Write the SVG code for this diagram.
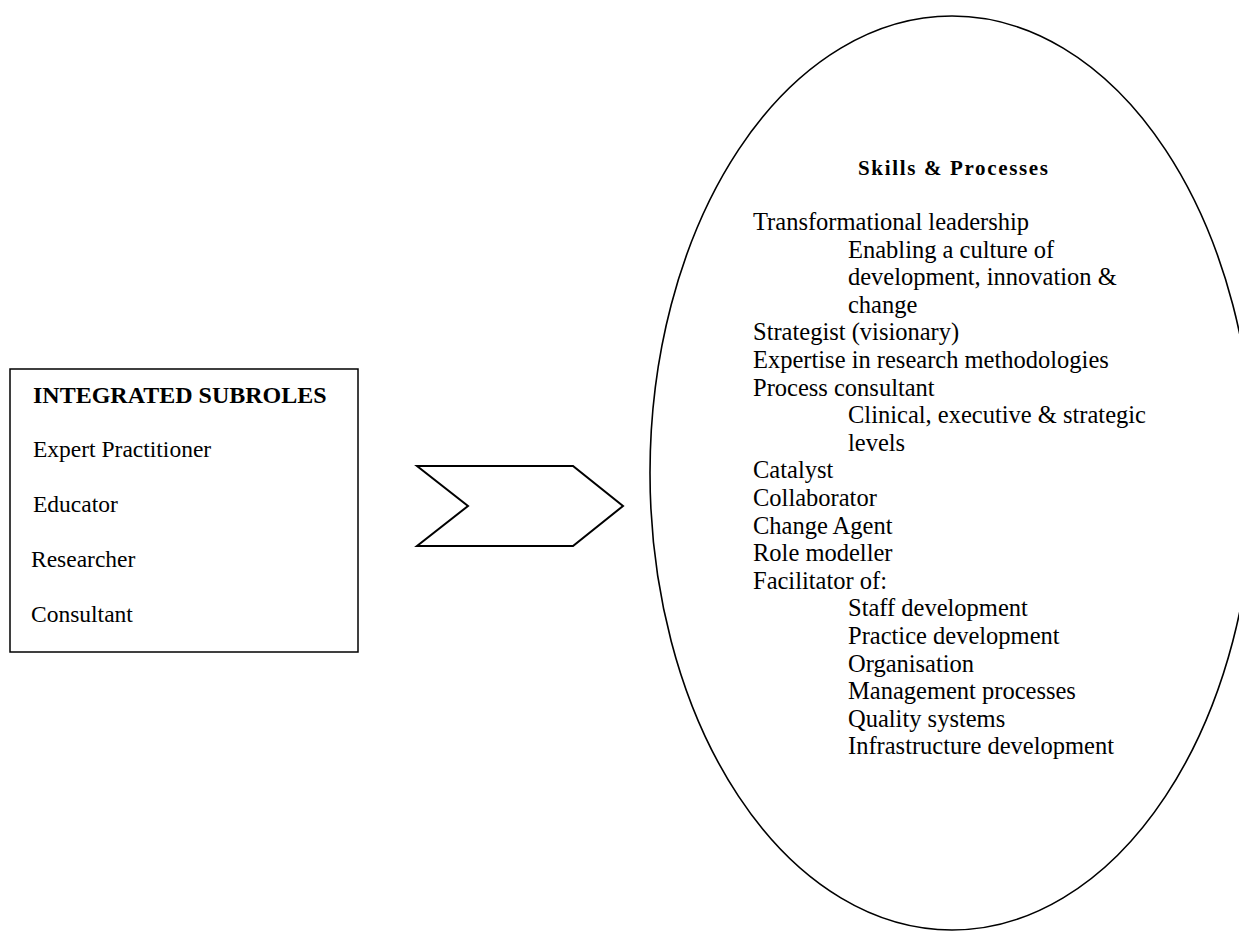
<svg xmlns="http://www.w3.org/2000/svg" width="1239" height="934" viewBox="0 0 1239 934">
  <style>
    .shape { fill: #ffffff; stroke: #000000; }
    .t { font-family: "Liberation Serif", "Times New Roman", serif; fill: #000000; }
    .box { font-size: 23.5px; }
    .boxh { font-size: 24px; font-weight: bold; }
    .list { font-size: 24.5px; }
    .title { font-size: 21px; font-weight: bold; }
  </style>
  <rect width="1239" height="934" fill="#ffffff"/>

  <g id="subroles">
    <rect class="shape" x="10" y="369" width="348" height="283" stroke-width="1.5"/>
    <text class="t boxh" x="33" y="403">INTEGRATED SUBROLES</text>
    <text class="t box" x="33" y="457">Expert Practitioner</text>
    <text class="t box" x="33" y="512">Educator</text>
    <text class="t box" x="31" y="567">Researcher</text>
    <text class="t box" x="31" y="622">Consultant</text>
  </g>

  <g id="connectors">
    <polygon class="shape" stroke-width="2" stroke-linejoin="miter" points="417,466 573,466 623,506 573,546 417,546 468,506"/>
  </g>

  <g id="skills">
    <ellipse class="shape" cx="952" cy="473" rx="302" ry="457" stroke-width="1.6"/>
    <text class="t title" x="858" y="175" textLength="190" lengthAdjust="spacing">Skills &amp; Processes</text>
    <text class="t list" x="753" y="230">Transformational leadership</text>
    <text class="t list" x="848" y="257.6">Enabling a culture of</text>
    <text class="t list" x="848" y="285.2">development, innovation &amp;</text>
    <text class="t list" x="848" y="312.8">change</text>
    <text class="t list" x="753" y="340.4">Strategist (visionary)</text>
    <text class="t list" x="753" y="368">Expertise in research methodologies</text>
    <text class="t list" x="753" y="395.6">Process consultant</text>
    <text class="t list" x="848" y="423.2">Clinical, executive &amp; strategic</text>
    <text class="t list" x="848" y="450.8">levels</text>
    <text class="t list" x="753" y="478.4">Catalyst</text>
    <text class="t list" x="753" y="506">Collaborator</text>
    <text class="t list" x="753" y="533.6">Change Agent</text>
    <text class="t list" x="753" y="561.2">Role modeller</text>
    <text class="t list" x="753" y="588.8">Facilitator of:</text>
    <text class="t list" x="848" y="616.4">Staff development</text>
    <text class="t list" x="848" y="644">Practice development</text>
    <text class="t list" x="848" y="671.6">Organisation</text>
    <text class="t list" x="848" y="699.2">Management processes</text>
    <text class="t list" x="848" y="726.8">Quality systems</text>
    <text class="t list" x="848" y="754.4">Infrastructure development</text>
  </g>
</svg>
